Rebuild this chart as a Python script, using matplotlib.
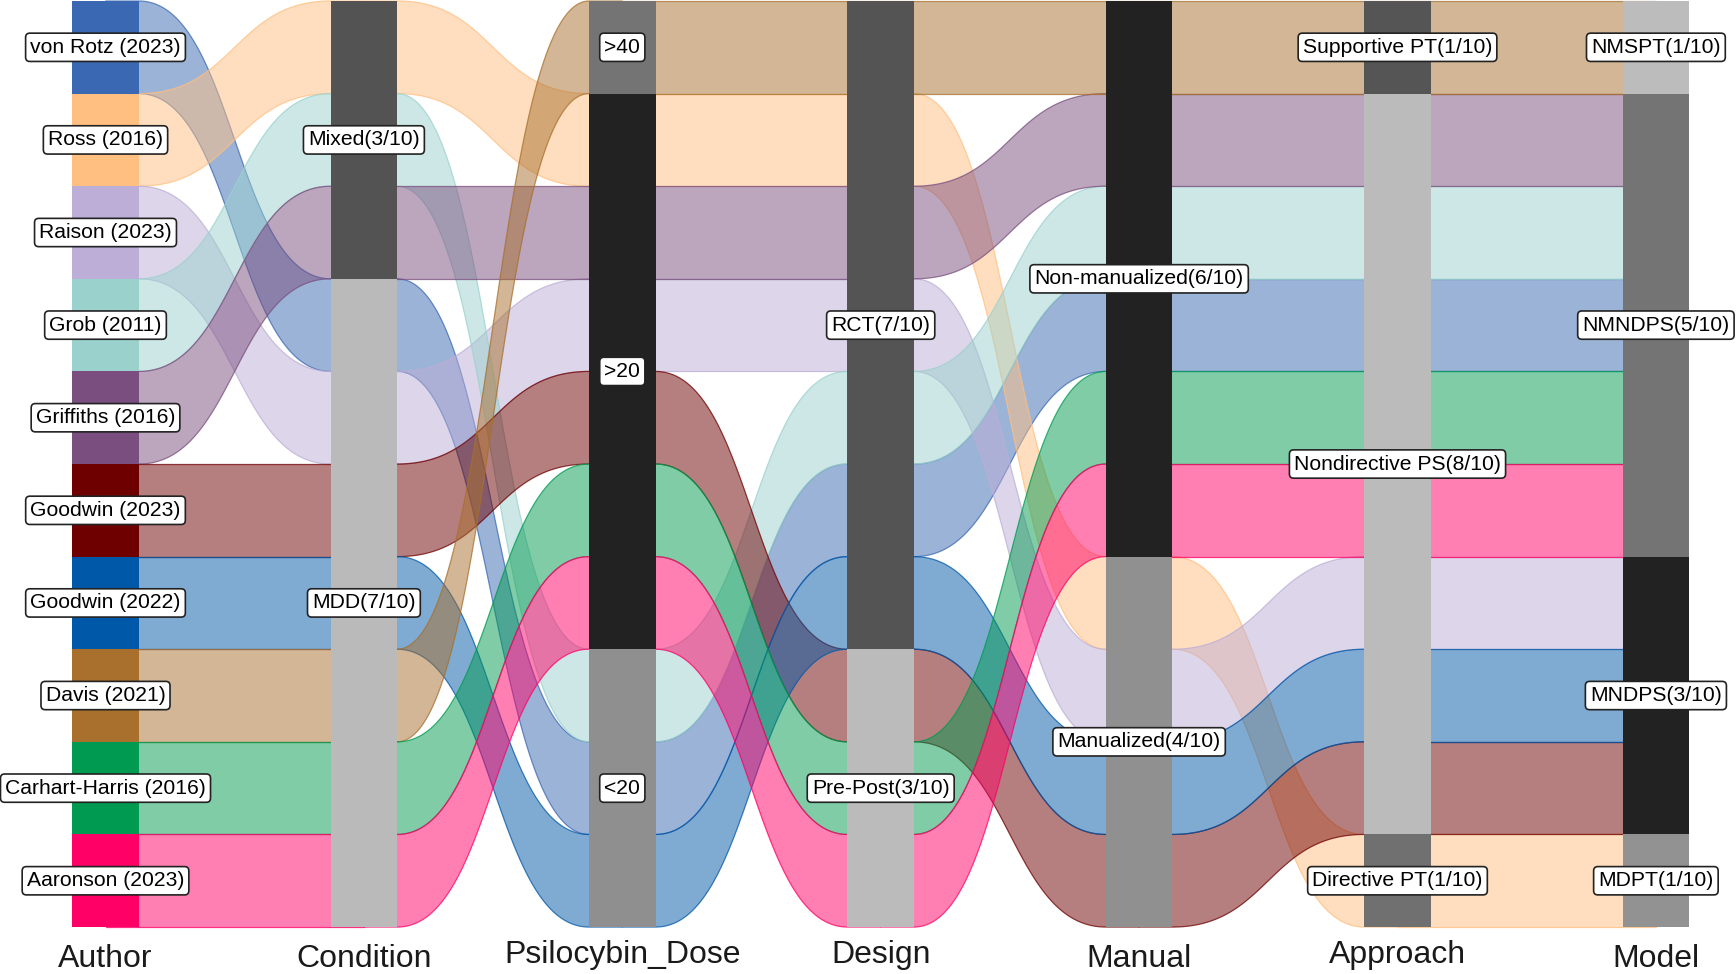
import numpy as np
import matplotlib.pyplot as plt
from matplotlib.colors import to_rgba
from matplotlib.patches import Rectangle

plt.rcParams['font.family'] = ['Liberation Sans', 'DejaVu Sans']

# --- data ---------------------------------------------------------------
authors = ["von Rotz (2023)", "Ross (2016)", "Raison (2023)", "Grob (2011)",
           "Griffiths (2016)", "Goodwin (2023)", "Goodwin (2022)", "Davis (2021)",
           "Carhart-Harris (2016)", "Aaronson (2023)"]
author_colors = ["#3a68b2", "#ffbf80", "#bcaed6", "#9bd1cd", "#7a4e7e",
                 "#6e0000", "#0058a8", "#a86f2d", "#009a50", "#ff0066"]

condition = ["MDD", "Mixed", "MDD", "Mixed", "Mixed", "MDD", "MDD", "MDD", "MDD", "MDD"]
dose = ["<20", ">20", ">20", "<20", ">20", ">20", "<20", ">40", ">20", ">20"]
design = ["RCT", "RCT", "RCT", "RCT", "RCT", "Pre-Post", "RCT", "RCT", "Pre-Post", "Pre-Post"]
manual = ["Non-manualized", "Manualized", "Manualized", "Non-manualized", "Non-manualized",
          "Manualized", "Manualized", "Non-manualized", "Non-manualized", "Non-manualized"]
approach = ["Nondirective PS", "Directive PT", "Nondirective PS", "Nondirective PS",
            "Nondirective PS", "Nondirective PS", "Nondirective PS", "Supportive PT",
            "Nondirective PS", "Nondirective PS"]
model = ["NMNDPS", "MDPT", "MNDPS", "NMNDPS", "NMNDPS", "MNDPS", "MNDPS", "NMSPT",
         "NMNDPS", "NMNDPS"]

axis_names = ["Author", "Condition", "Psilocybin_Dose", "Design", "Manual", "Approach", "Model"]

# stratum order (top to bottom) and bar colour per axis
condition_levels = ["Mixed", "MDD"]
condition_greys = ["#535353", "#bababa"]
dose_levels = [">40", ">20", "<20"]
dose_greys = ["#747474", "#222222", "#8f8f8f"]
design_levels = ["RCT", "Pre-Post"]
design_greys = ["#545454", "#bbbbbb"]
manual_levels = ["Non-manualized", "Manualized"]
manual_greys = ["#222222", "#909090"]
approach_levels = ["Supportive PT", "Nondirective PS", "Directive PT"]
approach_greys = ["#555555", "#bbbbbb", "#707070"]
model_levels = ["NMSPT", "NMNDPS", "MNDPS", "MDPT"]
model_greys = ["#bcbcbc", "#747474", "#222222", "#929292"]

columns = [condition, dose, design, manual, approach, model]
levels = [condition_levels, dose_levels, design_levels, manual_levels,
          approach_levels, model_levels]
greys = [condition_greys, dose_greys, design_greys, manual_greys,
         approach_greys, model_greys]
show_count = [True, False, True, True, True, True]   # dose labels have no count

n = len(authors)

# --- stacking: within a stratum keep the order of the previous axis ------
positions = [np.arange(n)]
for col, lev in zip(columns, levels):
    prev = positions[-1]
    order = sorted(range(n), key=lambda j: (lev.index(col[j]), prev[j]))
    pos = np.empty(n, dtype=int)
    pos[order] = np.arange(n)
    positions.append(pos)

# --- figure --------------------------------------------------------------
fig = plt.figure(figsize=(17.36, 9.74), dpi=100)
ax = fig.add_axes([0, 0, 1, 1])
ax.set_xlim(-0.4083, 6.310)
ax.set_ylim(10.507, -0.0108)
ax.axis("off")

bw = 0.257          # bar width in axis units
hw = bw / 2

t = np.linspace(0, 1, 120)
s = 3 * t**2 - 2 * t**3
bx = 3 * (1 - t)**2 * t * 0.5 + 3 * (1 - t) * t**2 * 0.5 + t**3  # bezier x, ctrl at half gap


def band(k, y0, y1, color):
    x0, x1 = k + hw, k + 1 - hw
    xs = x0 + (x1 - x0) * bx
    top = y0 + (y1 - y0) * s
    xs = np.concatenate([[k], xs, [k + 1]])
    top = np.concatenate([[y0], top, [y1]])
    bot = top + 1
    px = np.concatenate([xs, xs[::-1]])
    py = np.concatenate([top, bot[::-1]])
    ax.fill(px, py, facecolor=to_rgba(color, 0.5), edgecolor=to_rgba(color, 0.75),
            linewidth=0.9, zorder=1)


for j in range(n):
    for k in range(6):
        band(k, positions[k][j], positions[k + 1][j], author_colors[j])

box = dict(boxstyle="round,pad=0.22,rounding_size=0.2", facecolor="white",
           edgecolor="#222222", linewidth=1.2)
lab_size = 15.2

# author column
for j in range(n):
    y = positions[0][j]
    ax.add_patch(Rectangle((-hw, y), bw, 1, facecolor=author_colors[j],
                           edgecolor="none", zorder=2))
    ax.text(0, y + 0.5, authors[j], ha="center", va="center", fontsize=lab_size,
            bbox=box, zorder=3)

# other columns
for k, (col, lev, gr) in enumerate(zip(columns, levels, greys), start=1):
    pos = positions[k]
    for name, c in zip(lev, gr):
        members = [pos[j] for j in range(n) if col[j] == name]
        top, cnt = min(members), len(members)
        ax.add_patch(Rectangle((k - hw, top), bw, cnt, facecolor=c,
                               edgecolor="none", zorder=2))
        label = f"{name}({cnt}/{n})" if show_count[k - 1] else name
        ax.text(k, top + cnt / 2, label, ha="center", va="center",
                fontsize=lab_size, bbox=box, zorder=3)

# axis titles
for k, name in enumerate(axis_names):
    lift = 0.04 if any(ch in name for ch in "gjpqy_") else 0.0
    ax.text(k, 10.43 - lift, name, ha="center", va="baseline", fontsize=23,
            color="#1a1a1a")

fig.savefig("out.png", dpi=100)
